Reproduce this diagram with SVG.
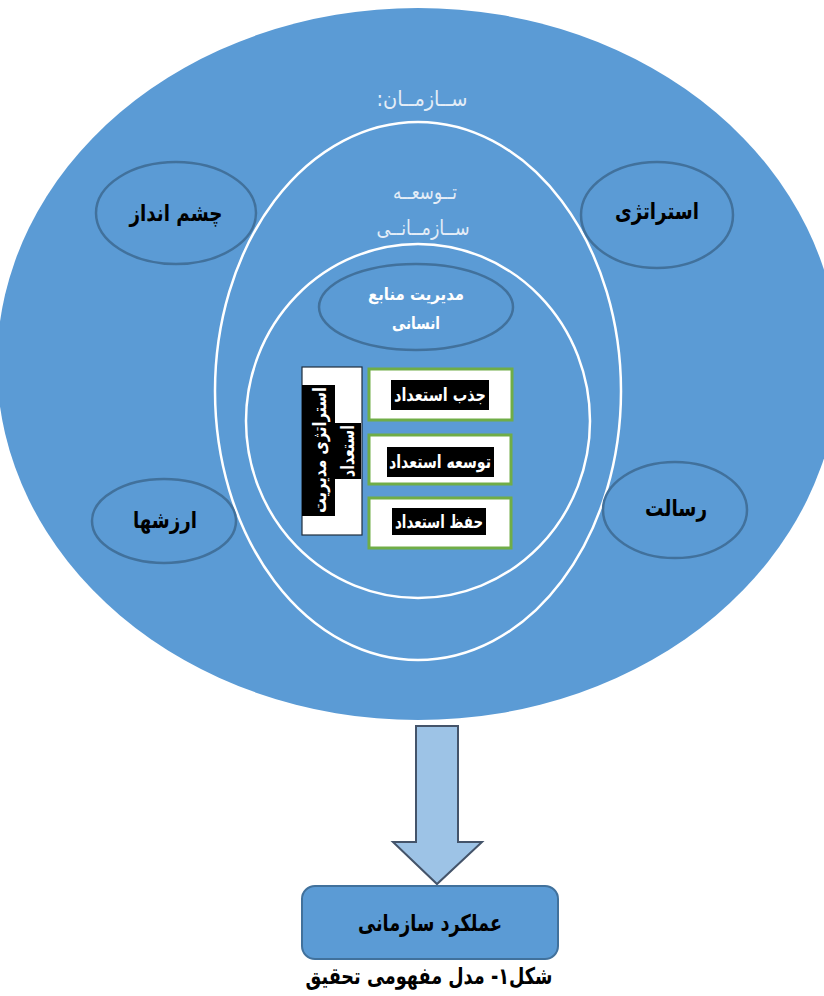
<svg xmlns="http://www.w3.org/2000/svg" width="824" height="996" viewBox="0 0 824 996">
<style>
  text { font-family: "DejaVu Sans", "Noto Sans", sans-serif; direction: rtl; }
  .small-ell { fill: none; stroke: #41719C; stroke-width: 2.5; }
  .white-ring { fill: none; stroke: #FFFFFF; stroke-width: 2.5; }
  .lbl { font-weight: bold; font-size: 23px; fill: #000; text-anchor: middle; }
  .wlight { font-size: 21px; fill: #E4EDF7; text-anchor: middle; letter-spacing: 2px; }
  .wbold { font-weight: bold; font-size: 17px; fill: #FFFFFF; text-anchor: middle; }
  .box { fill: #FFFFFF; stroke: #70AD47; stroke-width: 3; }
  .blk { fill: #000000; }
  .boxt { font-weight: bold; font-size: 18px; fill: #FFFFFF; text-anchor: middle; }
</style>

<g id="organization">
  <ellipse cx="418" cy="364" rx="421" ry="356" fill="#5B9BD5"/>
  <text class="wlight" x="422" y="106" textLength="91" lengthAdjust="spacingAndGlyphs">ســازمــان:</text>
</g>

<g id="org-development">
  <ellipse class="white-ring" cx="418" cy="391" rx="203" ry="269"/>
  <text class="wlight" x="425" y="199" textLength="64" lengthAdjust="spacingAndGlyphs">تــوسعــه</text>
  <text class="wlight" x="423" y="235" textLength="93" lengthAdjust="spacingAndGlyphs">ســازمــانــی</text>
</g>

<g id="hrm-ring">
  <ellipse class="white-ring" cx="418" cy="421" rx="172" ry="177"/>
</g>

<g id="hrm">
  <ellipse class="small-ell" cx="416" cy="307" rx="97" ry="43"/>
  <text class="wbold" x="416" y="300" textLength="96" lengthAdjust="spacingAndGlyphs">مدیریت منابع</text>
  <text class="wbold" x="416" y="329" textLength="48" lengthAdjust="spacingAndGlyphs">انسانی</text>
</g>

<g id="vision">
  <ellipse class="small-ell" cx="176" cy="213" rx="80" ry="51"/>
  <text class="lbl" x="176" y="221" textLength="93" lengthAdjust="spacingAndGlyphs">چشم انداز</text>
</g>

<g id="strategy">
  <ellipse class="small-ell" cx="657" cy="215" rx="76" ry="53"/>
  <text class="lbl" x="657" y="219" textLength="84" lengthAdjust="spacingAndGlyphs">استراتژی</text>
</g>

<g id="values">
  <ellipse class="small-ell" cx="164" cy="521" rx="72" ry="42"/>
  <text class="lbl" x="165" y="528" textLength="64" lengthAdjust="spacingAndGlyphs">ارزشها</text>
</g>

<g id="mission">
  <ellipse class="small-ell" cx="675" cy="510" rx="72" ry="48"/>
  <text class="lbl" x="676" y="516" textLength="62" lengthAdjust="spacingAndGlyphs">رسالت</text>
</g>

<g id="talent-strategy">
  <rect x="302" y="367" width="60" height="168" fill="#FFFFFF" stroke="#1F2D3D" stroke-width="1.2"/>
  <rect class="blk" x="302" y="385" width="33" height="131"/>
  <rect class="blk" x="335" y="423" width="26" height="56"/>
  <text class="boxt" transform="translate(326,450) rotate(-90)" x="0" y="0" textLength="126" lengthAdjust="spacingAndGlyphs">استراتژی مدیریت</text>
  <text class="boxt" transform="translate(354,451) rotate(-90)" x="0" y="0" textLength="52" lengthAdjust="spacingAndGlyphs">استعداد</text>
</g>

<g id="attract">
  <rect class="box" x="369" y="369" width="143" height="51"/>
  <rect class="blk" x="391" y="380" width="98" height="30"/>
  <text class="boxt" x="440" y="401" textLength="92" lengthAdjust="spacingAndGlyphs">جذب استعداد</text>
</g>

<g id="develop">
  <rect class="box" x="369" y="435" width="142" height="49"/>
  <rect class="blk" x="387" y="447" width="107" height="30"/>
  <text class="boxt" x="440" y="468" textLength="102" lengthAdjust="spacingAndGlyphs">توسعه استعداد</text>
</g>

<g id="retain">
  <rect class="box" x="369" y="498" width="142" height="50"/>
  <rect class="blk" x="392" y="508" width="94" height="27"/>
  <text class="boxt" x="439" y="528" textLength="88" lengthAdjust="spacingAndGlyphs">حفظ استعداد</text>
</g>

<g id="connectors">
  <path d="M416,726 L458,726 L458,842 L482,842 L437,884 L393,842 L416,842 Z" fill="#9DC3E6" stroke="#44546A" stroke-width="2"/>
</g>

<g id="performance">
  <rect x="302" y="886" width="256" height="73" rx="13" ry="13" fill="#5B9BD5" stroke="#41719C" stroke-width="2"/>
  <text class="lbl" x="430" y="931" textLength="144" lengthAdjust="spacingAndGlyphs">عملکرد سازمانی</text>
</g>

<g id="caption">
  <text class="lbl" x="429" y="984" textLength="247" lengthAdjust="spacingAndGlyphs">شکل۱- مدل مفهومی تحقیق</text>
</g>
</svg>
